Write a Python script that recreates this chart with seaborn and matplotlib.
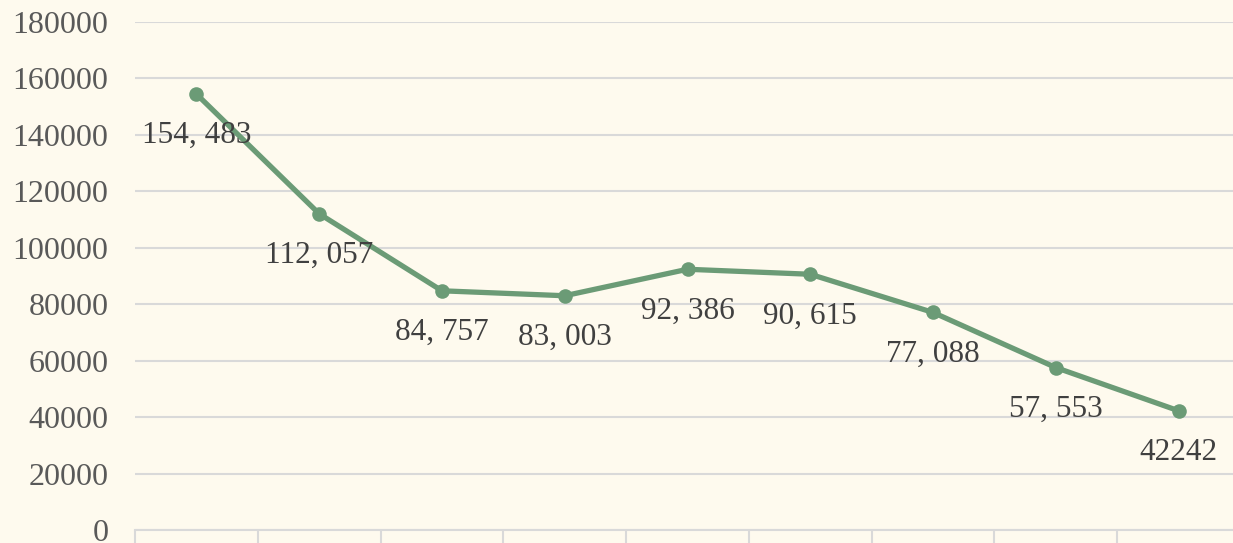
import pandas as pd
import matplotlib.pyplot as plt
import seaborn as sns

sns.set_style('white')
plt.rcParams['font.family'] = ['Liberation Serif', 'DejaVu Serif']

# values
positions = list(range(9))
values = [154483, 112057, 84757, 83003, 92386, 90615, 77088, 57553, 42242]
labels = ['154, 483', '112, 057', '84, 757', '83, 003', '92, 386',
          '90, 615', '77, 088', '57, 553', '42242']
y_ticks = list(range(0, 180001, 20000))

bg = '#FEFAEE'
line_color = '#6B9B76'
grid_color = '#D9D9D9'

df = pd.DataFrame({'pos': positions, 'value': values})

fig = plt.figure(figsize=(12.33, 5.43), dpi=100, facecolor=bg)
ax = fig.add_axes([135 / 1233, 13 / 543, 1105 / 1233, 508 / 543])
ax.set_facecolor(bg)

sns.lineplot(data=df, x='pos', y='value', ax=ax, color=line_color,
             linewidth=3.8, marker='o', markersize=10.5,
             markeredgewidth=0, zorder=3)

for x, y, t in zip(positions, values, labels):
    ax.annotate(t, (x, y), xytext=(0, -30), textcoords='offset points',
                ha='center', va='center', fontsize=22.5, color='#404040')

ax.set_xlim(-0.5, 8.5)
ax.set_ylim(0, 180000)
ax.set_yticks(y_ticks)
ax.set_yticklabels([str(v) for v in y_ticks])
ax.set_xticks([p - 0.5 for p in positions] + [8.5])
ax.set_xticklabels([])
ax.yaxis.grid(True, color=grid_color, linewidth=1.5)
ax.set_axisbelow(True)

for s in ['top', 'right', 'left']:
    ax.spines[s].set_visible(False)
ax.spines['bottom'].set_color(grid_color)
ax.spines['bottom'].set_linewidth(1.5)

ax.tick_params(axis='y', length=0, pad=19, labelsize=23, labelcolor='#595959')
ax.tick_params(axis='x', direction='out', length=12, width=1.5, color=grid_color,
               bottom=True)
ax.set_xlabel('')
ax.set_ylabel('')

fig.savefig('out.png', dpi=100, facecolor=bg)
